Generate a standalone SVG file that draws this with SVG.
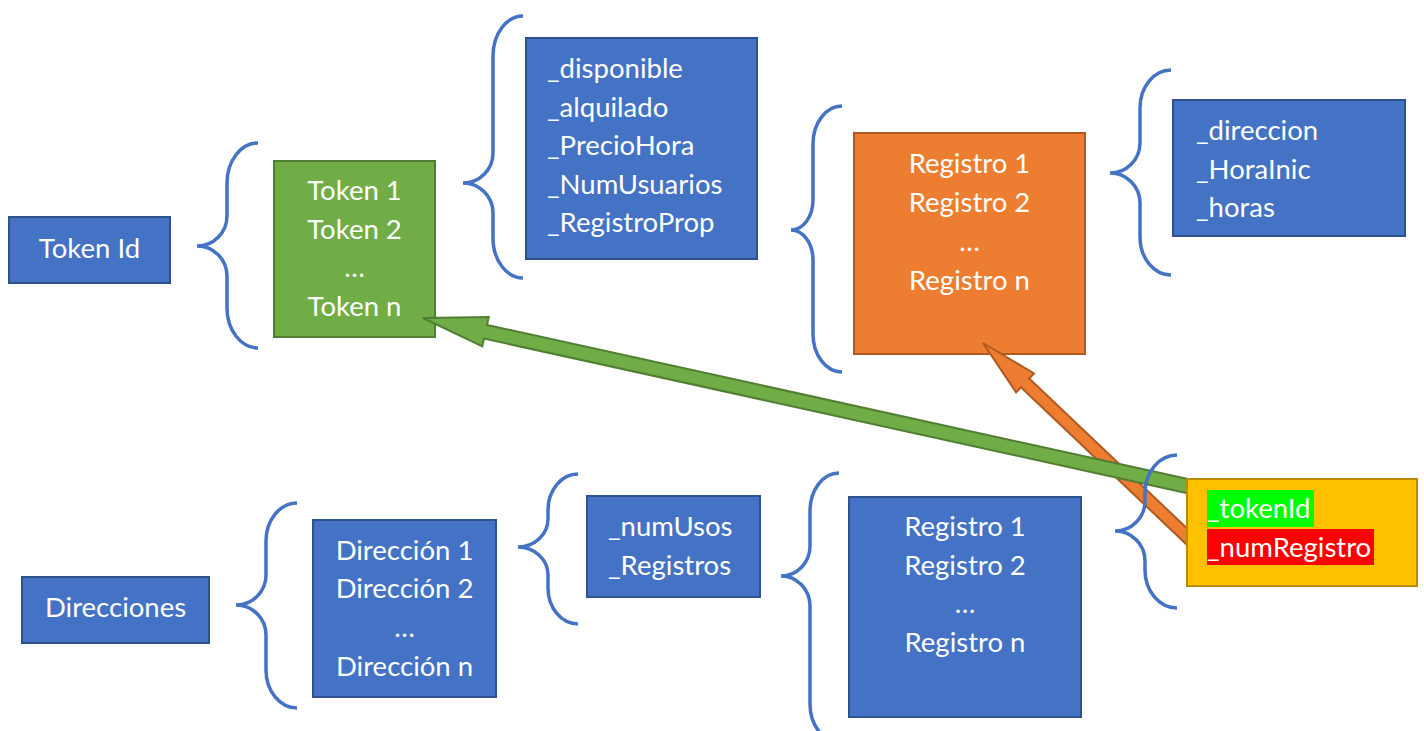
<svg xmlns="http://www.w3.org/2000/svg" width="1424" height="731" viewBox="0 0 1424 731">
  <style>
    .blue { fill: #4472C4; stroke: #2F528F; stroke-width: 2; }
    .green { fill: #70AD47; stroke: #507E32; stroke-width: 2; }
    .orange { fill: #ED7D31; stroke: #AE5A21; stroke-width: 2; }
    .yellow { fill: #FFC000; stroke: #BC8C00; stroke-width: 2; }
    .brace { fill: none; stroke: #4472C4; stroke-width: 3.5; }
    text { font-family: Lato, "Open Sans", "Liberation Sans", sans-serif; font-size: 27.5px; fill: #FFFFFF; }
    .c { text-anchor: middle; }
  </style>

  <rect width="1424" height="731" fill="#FFFFFF"/>

  <!-- boxes -->
  <g id="token-id">
    <rect class="blue" x="9" y="217" width="161" height="66"/>
    <text class="c" x="89.5" y="258">Token Id</text>
  </g>

  <g id="tokens">
    <rect class="green" x="274" y="161" width="161" height="176"/>
    <text class="c" x="354.5" y="200">Token 1</text>
    <text class="c" x="354.5" y="238.5">Token 2</text>
    <text class="c" x="354.5" y="277">…</text>
    <text class="c" x="354.5" y="315.5">Token n</text>
  </g>

  <g id="token-fields">
    <rect class="blue" x="526" y="38" width="231" height="221"/>
    <text x="547" y="78">_disponible</text>
    <text x="547" y="116.5">_alquilado</text>
    <text x="547" y="155">_PrecioHora</text>
    <text x="547" y="193.5">_NumUsuarios</text>
    <text x="547" y="232">_RegistroProp</text>
  </g>

  <g id="token-registros">
    <rect class="orange" x="854" y="133" width="231" height="221"/>
    <text class="c" x="969.5" y="173">Registro 1</text>
    <text class="c" x="969.5" y="212">Registro 2</text>
    <text class="c" x="969.5" y="251">…</text>
    <text class="c" x="969.5" y="289.5">Registro n</text>
  </g>

  <g id="registro-fields">
    <rect class="blue" x="1173" y="100" width="232" height="136"/>
    <text x="1196" y="140">_direccion</text>
    <text x="1196" y="178.5">_HoraInic</text>
    <text x="1196" y="217">_horas</text>
  </g>

  <g id="direcciones">
    <rect class="blue" x="22" y="577" width="187" height="66"/>
    <text class="c" x="115.5" y="617">Direcciones</text>
  </g>

  <g id="direccion-list">
    <rect class="blue" x="313" y="520" width="183" height="177"/>
    <text class="c" x="404.5" y="560">Dirección 1</text>
    <text class="c" x="404.5" y="598">Dirección 2</text>
    <text class="c" x="404.5" y="637">…</text>
    <text class="c" x="404.5" y="675.5">Dirección n</text>
  </g>

  <g id="direccion-fields">
    <rect class="blue" x="587" y="496" width="173" height="101"/>
    <text x="608" y="536">_numUsos</text>
    <text x="608" y="575">_Registros</text>
  </g>

  <g id="direccion-registros">
    <rect class="blue" x="849" y="497" width="232" height="220"/>
    <text class="c" x="965" y="536">Registro 1</text>
    <text class="c" x="965" y="574.5">Registro 2</text>
    <text class="c" x="965" y="613">…</text>
    <text class="c" x="965" y="651.5">Registro n</text>
  </g>

  <!-- block arrows from the reference record back to its token and registro -->
  <g id="connectors">
    <polygon class="orange" transform="translate(983 343) rotate(43.5)"
             points="0,0 58,-13 58,-6 290,-6 290,6 58,6 58,13"/>
    <polygon class="green" transform="translate(423 318) rotate(12.4)"
             points="0,0 64,-15 64,-7 790,-7 790,7 64,7 64,15"/>
  </g>

  <!-- curly braces -->
  <g id="braces">
    <path class="brace" d="M258,143 A31,40 0 0 0 227,183 L227,216 A30,30 0 0 1 197,246 A30,30 0 0 1 227,276 L227,308 A31,40 0 0 0 258,348"/>
    <path class="brace" d="M523,16 A30,40 0 0 0 493,56 L493,153 A30,30 0 0 1 463,183 A30,30 0 0 1 493,213 L493,238 A30,40 0 0 0 523,278"/>
    <path class="brace" d="M842,106 A29,38 0 0 0 813,144 L813,200 A22,30 0 0 1 791,230 A22,30 0 0 1 813,260 L813,334 A29,38 0 0 0 842,372"/>
    <path class="brace" d="M1171,70 A31,38 0 0 0 1140,108 L1140,143 A30,30 0 0 1 1110,173 A30,30 0 0 1 1140,203 L1140,237 A31,38 0 0 0 1171,275"/>
    <path class="brace" d="M1177,455 A32,38 0 0 0 1145,493 L1145,501 A30,30 0 0 1 1115,531 A30,30 0 0 1 1145,561 L1145,570 A32,38 0 0 0 1177,608"/>
    <path class="brace" d="M297,503 A31,38 0 0 0 266,541 L266,575 A30,30 0 0 1 236,605 A30,30 0 0 1 266,635 L266,670 A31,38 0 0 0 297,708"/>
    <path class="brace" d="M578,474 A30,36 0 0 0 548,510 L548,519 A30,28 0 0 1 518,547 A30,28 0 0 1 548,575 L548,588 A30,36 0 0 0 578,624"/>
    <path class="brace" d="M839,473 A29,38 0 0 0 810,511 L810,546 A29,30 0 0 1 781,576 A29,30 0 0 1 810,606 L810,704 A29,38 0 0 0 839,742"/>
  </g>

  <g id="registro-ref">
    <rect class="yellow" x="1187" y="479" width="230" height="107"/>
    <rect x="1207" y="490" width="107" height="37" fill="#00FF00"/>
    <rect x="1207" y="529" width="167" height="36" fill="#FF0000"/>
    <text x="1207" y="518">_tokenId</text>
    <text x="1207" y="557">_numRegistro</text>
  </g>
</svg>
